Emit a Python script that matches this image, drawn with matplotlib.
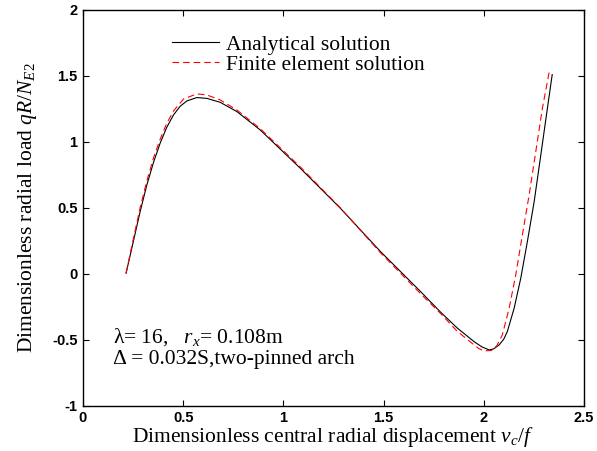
import numpy as np
import matplotlib
matplotlib.use("Agg")
import matplotlib.pyplot as plt

plt.rcParams["font.family"] = "Liberation Serif"
plt.rcParams["mathtext.fontset"] = "custom"
plt.rcParams["mathtext.rm"] = "Liberation Serif"
plt.rcParams["mathtext.it"] = "Liberation Serif:italic"

# analytical solution
x_an = [0.215, 0.252, 0.285, 0.318, 0.352, 0.385, 0.418, 0.452, 0.485, 0.518,
        0.568, 0.618, 0.685, 0.768, 0.852, 0.885, 1.085, 1.285, 1.485, 1.685,
        1.785, 1.868, 1.952, 1.99, 2.027, 2.05, 2.077, 2.1, 2.118, 2.152,
        2.185, 2.218, 2.252, 2.285, 2.318, 2.342]
y_an = [0.005, 0.25, 0.47, 0.67, 0.845, 0.99, 1.11, 1.205, 1.27, 1.31,
        1.336, 1.33, 1.30, 1.23, 1.13, 1.09, 0.80, 0.497, 0.169, -0.134,
        -0.29, -0.41, -0.513, -0.552, -0.576, -0.568, -0.538, -0.495, -0.437, -0.26,
        -0.033, 0.245, 0.548, 0.90, 1.255, 1.51]

# finite element solution
x_fe = [0.215, 0.252, 0.285, 0.318, 0.352, 0.385, 0.418, 0.452, 0.502, 0.568,
        0.618, 0.685, 0.768, 0.852, 0.885, 1.085, 1.285, 1.485, 1.685, 1.785,
        1.868, 1.952, 1.975, 2.0, 2.04, 2.065, 2.093, 2.127, 2.16, 2.193,
        2.227, 2.26, 2.293, 2.327]
y_fe = [0.005, 0.27, 0.50, 0.70, 0.88, 1.02, 1.14, 1.235, 1.325, 1.364,
        1.356, 1.318, 1.242, 1.14, 1.10, 0.81, 0.50, 0.16, -0.15, -0.30,
        -0.435, -0.538, -0.565, -0.583, -0.58, -0.545, -0.462, -0.26, -0.008, 0.295,
        0.6, 0.927, 1.255, 1.53]

x_ticks = [0, 0.5, 1, 1.5, 2, 2.5]
x_labels = ["0", "0.5", "1", "1.5", "2", "2.5"]
y_ticks = [-1, -0.5, 0, 0.5, 1, 1.5, 2]
y_labels = ["-1", "-0.5", "0", "0.5", "1", "1.5", "2"]

fig = plt.figure(figsize=(5.97, 4.51), dpi=100)
ax = fig.add_axes([0.139, 0.1, 0.839, 0.878])

ax.plot(x_an, y_an, color="black", lw=0.8, label="Analytical solution")
ax.plot(x_fe, y_fe, color="red", lw=0.8, linestyle=(0, (6, 3.5)),
        label="Finite element solution")

ax.set_xlim(0, 2.5)
ax.set_ylim(-1, 2)
ax.tick_params(direction="in", top=True, right=True, length=4, width=0.8, pad=4)
ax.set_xticks(x_ticks)
ax.set_yticks(y_ticks)
ax.set_xticklabels(x_labels)
ax.set_yticklabels(y_labels)
for s in ax.spines.values():
    s.set_linewidth(1.0)

ax.set_xlabel("Dimensionless central radial displacement $v_c/f$", fontsize=15.5, labelpad=0)
ax.set_ylabel("Dimensionless radial load $qR/N_{E2}$", fontsize=15.5, labelpad=9)

ax.legend(loc="upper left", bbox_to_anchor=(0.147, 0.975), frameon=False, fontsize=15.5,
          handlelength=2.2, handletextpad=0.3, labelspacing=0.0, borderpad=0.2)

ax.text(0.06, 0.16, "λ= 16,   $r_x$= 0.108m", transform=ax.transAxes, fontsize=15.5)
ax.text(0.06, 0.105, "Δ = 0.032S,two-pinned arch", transform=ax.transAxes, fontsize=15.5)

# bold sans tick labels, applied right before drawing so nothing resets them
fig.canvas.draw()
for lab in ax.get_xticklabels() + ax.get_yticklabels():
    lab.set_fontfamily("Liberation Sans")
    lab.set_fontweight("bold")
    lab.set_fontsize(10.5)

fig.savefig("out.png", dpi=100)
